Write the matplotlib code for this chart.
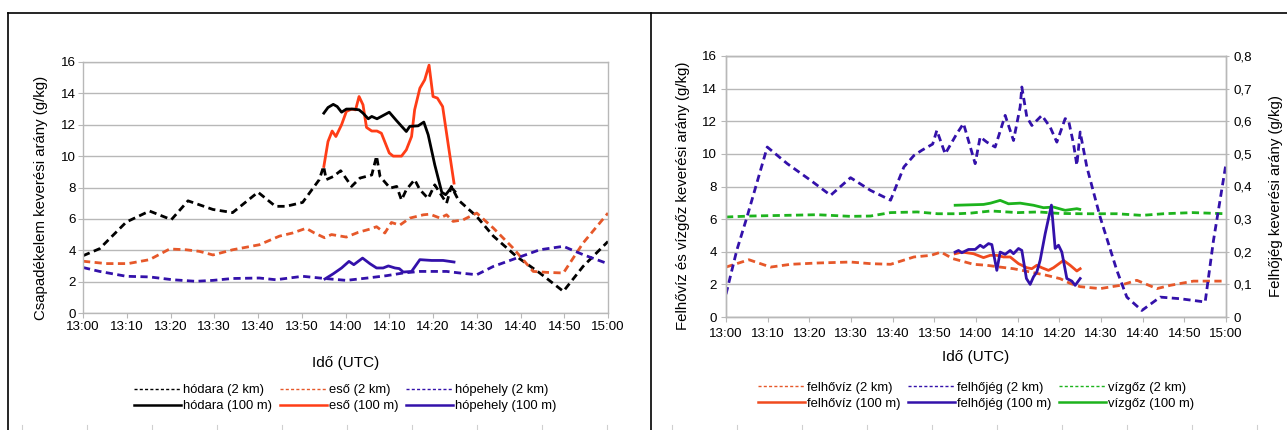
import matplotlib
matplotlib.use("Agg")
import matplotlib.pyplot as plt
from matplotlib.lines import Line2D
import numpy as np

plt.rcParams["font.family"] = ["Liberation Sans", "DejaVu Sans"]
plt.rcParams["font.size"] = 9

# time axis: minutes after 13:00
tick_minutes = [0, 10, 20, 30, 40, 50, 60, 70, 80, 90, 100, 110, 120]
tick_labels = ["13:00", "13:10", "13:20", "13:30", "13:40", "13:50", "14:00",
               "14:10", "14:20", "14:30", "14:40", "14:50", "15:00"]

# ---- left panel: precipitation mixing ratios (g/kg)
hodara_2km_t = [0, 3.8, 9.9, 15.2, 20.2, 24, 29.7, 34.2, 40, 44, 46.4, 50.2, 54, 55, 55.6, 57.2,
                58.9, 61.4, 63.3, 66, 67.1, 67.9, 70.2, 71.7, 72.8, 73.9, 75.8, 77, 78.9, 80.4,
                83.1, 84.2, 85.8, 90, 93.8, 99.1, 104.4, 109.8, 114.3, 120]
hodara_2km = [3.65, 4.1, 5.8, 6.5, 5.95, 7.15, 6.6, 6.4, 7.7, 6.8, 6.8, 7.05, 8.5, 9.35, 8.5, 8.7,
              9.07, 8.07, 8.6, 8.8, 10.0, 8.7, 7.96, 8.07, 7.2, 7.86, 8.5, 7.86, 7.3, 8.17,
              7.0, 8.07, 7.2, 6.15, 4.9, 3.6, 2.55, 1.38, 2.97, 4.56]
eso_2km_t = [0, 5.3, 10.3, 15.2, 19.8, 23.6, 26.6, 29.7, 34.2, 40.3, 44.9, 47.9, 51, 52.9, 55.2,
             56.8, 60.2, 62.9, 65.6, 67.1, 69, 70.5, 72.4, 74.7, 77.8, 79.3, 81.6, 83.1, 84.6,
             86.9, 90, 93.8, 98.3, 102.9, 106, 109.8, 114.3, 120]
eso_2km = [3.3, 3.15, 3.15, 3.4, 4.08, 4.03, 3.93, 3.7, 4.03, 4.35, 4.9, 5.1, 5.4, 5.1, 4.8,
           5.0, 4.84, 5.14, 5.35, 5.5, 5.1, 5.77, 5.6, 6.05, 6.26, 6.3, 6.05, 6.26, 5.84,
           5.94, 6.37, 5.41, 4.14, 2.65, 2.59, 2.55, 4.46, 6.37]
hopehely_2km_t = [0, 3.8, 9.9, 15.2, 20.5, 25.8, 29.7, 34.2, 40.3, 44.1, 50.2, 55.2, 60.2, 65,
                  69.4, 73.2, 77, 83.1, 86.1, 90, 93.8, 99.1, 104.4, 109.8, 114.3, 120]
hopehely_2km = [2.9, 2.65, 2.34, 2.3, 2.12, 2.02, 2.08, 2.2, 2.23, 2.12, 2.34, 2.2, 2.08, 2.23,
                2.38, 2.55, 2.65, 2.65, 2.55, 2.44, 2.97, 3.5, 4.03, 4.25, 3.72, 3.14]
hodara_100m_t = [55.05, 56, 57.2, 58.1, 59.1, 60.2, 61.8, 63.1, 64, 65.2, 66, 67.2, 68.2, 70,
                 71.7, 73.9, 74.7, 76.6, 77.9, 78.9, 80.4, 82, 82.9, 84.2, 85]
hodara_100m = [12.74, 13.1, 13.3, 13.16, 12.8, 13.0, 13.0, 12.95, 12.74, 12.38, 12.53, 12.38,
               12.53, 12.8, 12.25, 11.57, 11.9, 11.93, 12.17, 11.36, 9.45, 7.7, 7.54, 8.0, 7.75]
eso_100m_t = [55.05, 56, 56.95, 57.8, 59.1, 60.2, 61.4, 62.3, 63.1, 64, 64.8, 66, 67.2, 68.2, 70,
              70.9, 72.8, 73.9, 75.1, 75.8, 77, 78.1, 79.1, 80, 81, 82.2, 83.5, 84.8]
eso_100m = [9.34, 10.93, 11.6, 11.25, 12.0, 12.85, 13.0, 12.95, 13.8, 13.27, 11.83, 11.6, 11.6,
            11.46, 10.2, 10.0, 10.0, 10.4, 11.25, 12.95, 14.33, 14.86, 15.8, 13.8, 13.7, 13.16,
            10.7, 8.28]
hopehely_100m_t = [55.3, 57.2, 59.1, 60.8, 61.9, 63.9, 65.6, 67.1, 68.6, 69.8, 71.3, 72.3, 73.2,
                   75.1, 77, 79.7, 82.3, 84.8]
hopehely_100m = [2.17, 2.5, 2.87, 3.29, 3.08, 3.5, 3.14, 2.87, 2.87, 3.0, 2.87, 2.83, 2.61, 2.65,
                 3.4, 3.35, 3.35, 3.25]

# ---- right panel: cloud water, water vapour (g/kg, left axis); cloud ice (g/kg, right axis)
felhoviz_2km_t = [0, 5.5, 10.7, 15.5, 21.9, 29.9, 34.7, 39.5, 45.1, 49.2, 51.6, 54.4, 59.4, 62.6,
                  65.8, 69, 73, 77, 80.2, 82.6, 85, 89.8, 94.6, 98.6, 103.4, 106.6, 112.2, 120]
felhoviz_2km = [3.06, 3.51, 3.06, 3.23, 3.31, 3.37, 3.27, 3.23, 3.68, 3.78, 3.98, 3.58, 3.23, 3.17,
                3.06, 2.96, 2.76, 2.55, 2.35, 2.06, 1.86, 1.74, 1.94, 2.25, 1.74, 1.94, 2.2, 2.2]
felhojeg_2km_t = [0, 2.6, 5.05, 9.9, 14.7, 20.3, 25.1, 29.9, 34.7, 39.5, 42.7, 45.1, 47.0, 49.6,
                  50.6, 52.6, 55.4, 57.0, 59.8, 61.0, 62.6, 64.6, 67.0, 69.0, 70.6, 71.0, 72.2,
                  73.4, 75.8, 77.8, 79.4, 81.4, 82.2, 83.4, 84.2, 85.0, 86.6, 89.8, 93.8, 96.2,
                  99.8, 104.2, 109.0, 115.0, 117.0, 120.0]
felhojeg_2km = [0.07, 0.205, 0.307, 0.521, 0.47, 0.419, 0.373, 0.427, 0.388, 0.358, 0.46, 0.495,
                0.511, 0.53, 0.572, 0.50, 0.562, 0.593, 0.47, 0.552, 0.536, 0.521, 0.618, 0.541,
                0.644, 0.705, 0.613, 0.587, 0.618, 0.582, 0.536, 0.608, 0.603, 0.531, 0.465,
                0.567, 0.46, 0.306, 0.143, 0.061, 0.02, 0.061, 0.056, 0.046, 0.235, 0.47]
vizgoz_2km_t = [0, 5.9, 13.9, 21.9, 29.9, 34.7, 39.5, 45.9, 50.8, 55.6, 58.8, 63.6, 70, 75, 80,
                85, 93.8, 99.8, 105, 112, 120]
vizgoz_2km = [6.13, 6.19, 6.23, 6.27, 6.17, 6.19, 6.4, 6.44, 6.33, 6.33, 6.37, 6.5, 6.4, 6.44,
              6.35, 6.33, 6.33, 6.23, 6.33, 6.4, 6.33]
felhoviz_100m_t = [55, 56.6, 59.4, 61.8, 63.4, 65, 66.6, 68.2, 70.2, 72.2, 73.4, 74.6, 75.8, 77.4,
                   78.6, 81, 82.6, 84.2, 85]
felhoviz_100m = [3.88, 3.98, 3.88, 3.64, 3.78, 3.78, 3.68, 3.68, 3.27, 3.02, 2.96, 3.17, 3.02,
                 2.86, 3.02, 3.47, 3.17, 2.82, 2.96]
felhojeg_100m_t = [55.0, 55.8, 56.6, 58.2, 59.8, 61, 61.8, 63, 63.8, 65, 65.8, 67, 68.2, 69, 70.2,
                   71, 72.1, 73, 73.8, 74.6, 75.4, 76.6, 78.1, 79, 79.8, 80.6, 81.8, 83, 83.8, 85]
felhojeg_100m = [0.199, 0.204, 0.197, 0.207, 0.207, 0.22, 0.213, 0.225, 0.222, 0.143, 0.199,
                 0.192, 0.204, 0.194, 0.21, 0.204, 0.118, 0.10, 0.123, 0.138, 0.174, 0.255,
                 0.343, 0.21, 0.22, 0.199, 0.118, 0.11, 0.097, 0.118]
vizgoz_100m_t = [55.0, 61.8, 63.5, 65.8, 67.8, 70.6, 73.8, 76.2, 78.6, 81.4, 84.2, 84.9]
vizgoz_100m = [6.85, 6.9, 6.98, 7.15, 6.94, 6.98, 6.85, 6.7, 6.74, 6.54, 6.64, 6.6]

BLACK, ORANGE_D, ORANGE, BLUE, GREEN = "#000000", "#e6582a", "#ff3d17", "#3311aa", "#1db31d"
ORANGE_R = "#f04a1e"
GRID = "#b8b8b8"
DASH = (2.6, 1.6)
LW = 2.0

fig = plt.figure(figsize=(12.87, 4.30), dpi=100)
W, H = 1287.0, 430.0


def px_axes(x0, y0, x1, y1):
    return fig.add_axes([x0 / W, 1 - y1 / H, (x1 - x0) / W, (y1 - y0) / H])


def style(ax, pad_x):
    ax.set_xlim(0, 120); ax.set_ylim(0, 16)
    ax.set_xticks(tick_minutes); ax.set_xticklabels(tick_labels)
    ax.set_yticks(np.arange(0, 17, 2))
    ax.grid(True, axis="y", color=GRID, lw=1)
    ax.set_axisbelow(True)
    for s in ax.spines.values():
        s.set_color(GRID); s.set_linewidth(1)
    ax.tick_params(axis="both", color=GRID, length=3.6, labelsize=9.6)
    ax.tick_params(axis="x", pad=pad_x)
    ax.tick_params(axis="y", pad=1.5)


def legend(ax, entries, y):
    handles = []
    for lab, col, dashed in entries:
        if dashed:
            handles.append(Line2D([], [], color=col, lw=1.0, dashes=(2.2, 1.6), label=lab))
        else:
            handles.append(Line2D([], [], color=col, lw=1.8, label=lab))
    ax.legend(handles=handles, ncol=3, loc="upper center", bbox_to_anchor=(0.5, y), frameon=False,
              fontsize=9.4, handlelength=3.6, handletextpad=0.15, columnspacing=0.6,
              labelspacing=0.3, borderaxespad=0)


# ---- left panel
axL = px_axes(83, 62, 608, 313)
style(axL, 2.5)
axL.plot(hodara_2km_t, hodara_2km, color=BLACK, lw=LW, dashes=DASH)
axL.plot(eso_2km_t, eso_2km, color=ORANGE_D, lw=LW, dashes=DASH)
axL.plot(hopehely_2km_t, hopehely_2km, color=BLUE, lw=LW, dashes=DASH)
axL.plot(eso_100m_t, eso_100m, color=ORANGE, lw=LW)
axL.plot(hodara_100m_t, hodara_100m, color=BLACK, lw=LW)
axL.plot(hopehely_100m_t, hopehely_100m, color=BLUE, lw=LW)
axL.set_ylabel("Csapadékelem keverési arány (g/kg)", fontsize=10.8)
axL.yaxis.set_label_coords(-0.066, 0.46)
axL.set_xlabel("Idő (UTC)", fontsize=11)
axL.xaxis.set_label_coords(0.5, -0.17)
legend(axL, [("hódara (2 km)", BLACK, True), ("hódara (100 m)", BLACK, False),
             ("eső (2 km)", ORANGE_D, True), ("eső (100 m)", ORANGE, False),
             ("hópehely (2 km)", BLUE, True), ("hópehely (100 m)", BLUE, False)], -0.262)

# ---- right panel
axR = px_axes(726, 56, 1226, 317)
style(axR, 4)
axR.plot(felhoviz_2km_t, felhoviz_2km, color=ORANGE_D, lw=LW, dashes=DASH)
axR.plot(vizgoz_2km_t, vizgoz_2km, color=GREEN, lw=LW, dashes=DASH)
axR.plot(felhoviz_100m_t, felhoviz_100m, color=ORANGE_R, lw=LW)
axR.plot(vizgoz_100m_t, vizgoz_100m, color=GREEN, lw=LW)
axR.set_ylabel("Felhővíz és vízgőz keverési arány (g/kg)", fontsize=10.8)
axR.yaxis.set_label_coords(-0.072, 0.465)
axR.set_xlabel("Idő (UTC)", fontsize=11)
axR.xaxis.set_label_coords(0.5, -0.125)
axR.tick_params(axis="y", pad=3)

axR2 = axR.twinx()
axR2.set_ylim(0, 0.8)
r_ticks = np.round(np.arange(0, 0.81, 0.1), 1)
axR2.set_yticks(r_ticks)
axR2.set_yticklabels(["0"] + [f"{v:.1f}".replace(".", ",") for v in r_ticks[1:]])
for s in axR2.spines.values():
    s.set_color(GRID); s.set_linewidth(1)
axR2.tick_params(axis="y", color=GRID, length=2.5, labelsize=9.6, pad=3)
axR2.plot(felhojeg_2km_t, felhojeg_2km, color=BLUE, lw=LW, dashes=DASH)
axR2.plot(felhojeg_100m_t, felhojeg_100m, color=BLUE, lw=LW)
axR2.set_ylabel("Felhőjég keverési arány (g/kg)", fontsize=10.8)
axR2.yaxis.set_label_coords(1.086, 0.465)
legend(axR, [("felhővíz (2 km)", ORANGE_D, True), ("felhővíz (100 m)", ORANGE_R, False),
             ("felhőjég (2 km)", BLUE, True), ("felhőjég (100 m)", BLUE, False),
             ("vízgőz (2 km)", GREEN, True), ("vízgőz (100 m)", GREEN, False)], -0.228)

# frame lines of the surrounding sheet
frame = dict(color="black", lw=1.2, transform=fig.transFigure, clip_on=False)
fig.add_artist(Line2D([8 / W, 1], [1 - 13 / H, 1 - 13 / H], **frame))
fig.add_artist(Line2D([8 / W, 8 / W], [0, 1 - 13 / H], **frame))
fig.add_artist(Line2D([651 / W, 651 / W], [0, 1 - 13 / H], **frame))
for xp in np.arange(22, 1287, 65):
    fig.add_artist(Line2D([xp / W, xp / W], [0, 5 / H], color="#d0d0d0", lw=0.8,
                          transform=fig.transFigure))

fig.savefig("out.png", dpi=100)
